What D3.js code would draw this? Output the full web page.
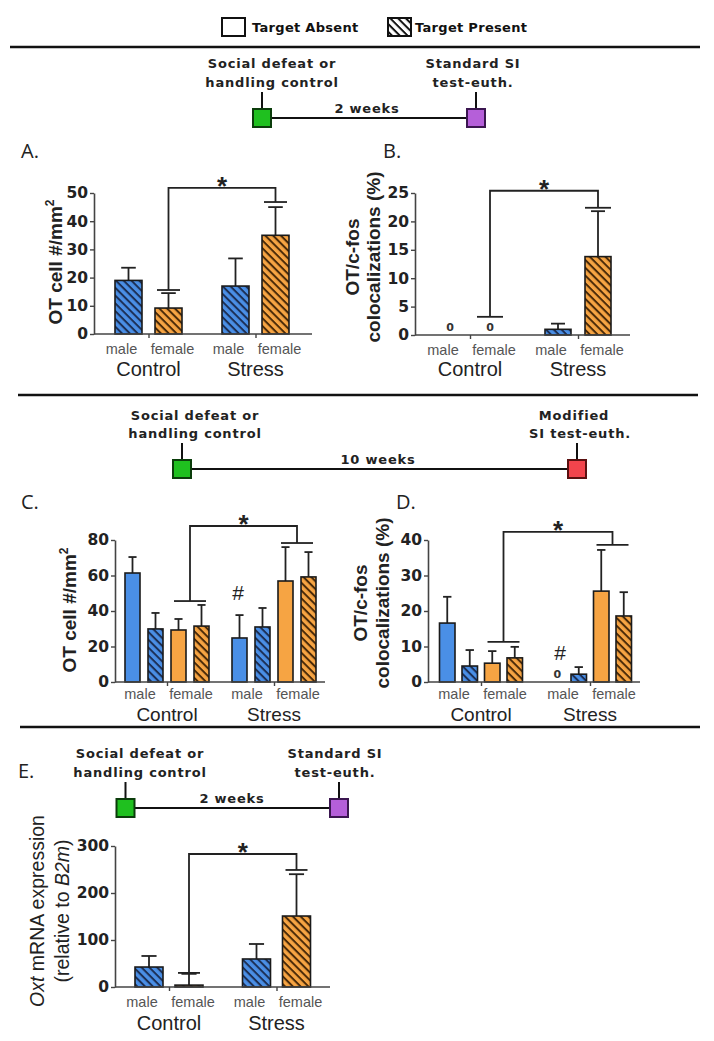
<!DOCTYPE html>
<html><head><meta charset="utf-8">
<script src="https://cdn.jsdelivr.net/npm/d3@7"></script>
<style>body{margin:0;background:#fff}</style>
</head><body>
<svg id="c" width="714" height="1041"></svg>
<script>
// ---------------- DATA ----------------
const conditions = ["Control", "Stress"];
const sexes = ["male", "female"];
const subBars = ["male-absent", "male-present", "female-absent", "female-present"];

const legendLabels = ["Target Absent", "Target Present"];

// Panel A: OT cell #/mm2 (target present), order: Control male, Control female, Stress male, Stress female
const aValues = [19, 9.2, 17, 35];
const aErrors = [23.5, 14.5, 26.8, 45];
const aTicks = [0, 10, 20, 30, 40, 50];

// Panel B: OT/c-fos colocalizations (%)
const bValues = [0, 0, 1.0, 13.8];
const bErrors = [null, null, 2.0, 21.8];
const bTicks = [0, 5, 10, 15, 20, 25];

// Panel C: OT cell #/mm2, order per condition: male-absent, male-present, female-absent, female-present
const cValues = [61.4, 29.9, 29.3, 31.5, 24.8, 31.0, 56.9, 59.2];
const cErrors = [70.4, 38.9, 35.5, 43.4, 37.7, 41.7, 76.0, 73.2];
const cTicks = [0, 20, 40, 60, 80];

// Panel D: OT/c-fos colocalizations (%)
const dValues = [16.6, 4.5, 5.3, 6.8, 0, 2.2, 25.6, 18.6];
const dErrors = [24.0, 9.0, 8.7, 9.9, null, 4.2, 37.2, 25.3];
const dTicks = [0, 10, 20, 30, 40];

// Panel E: Oxt mRNA expression (relative to B2m)
const eValues = [42.5, 4, 59.6, 151];
const eErrors = [66, 28, 91.5, 240];
const eTicks = [0, 100, 200, 300];

// Significance brackets: [left foot, right foot, top] in data units
const aBracket = [15.6, 46.8, 51.8];
const bBracket = [3.2, 22.4, 25.4];
const cBracket = [45.6, 78.3, 87.9];
const dBracket = [11.3, 38.6, 42.3];
const eBracket = [30, 249, 283];

// Timelines
const t1Labels = [["Social defeat or", "handling control"], ["Standard SI", "test-euth."], "2 weeks"];
const t2Labels = [["Social defeat or", "handling control"], ["Modified", "SI test-euth."], "10 weeks"];
const t3Labels = [["Social defeat or", "handling control"], ["Standard SI", "test-euth."], "2 weeks"];

// ---------------- STYLE ----------------
const BLUE = "#4a8fe6", ORANGE = "#f6a443";
const BOLDFONT = "'DejaVu Sans', sans-serif";
const ARIAL = "'Liberation Sans', Arial, sans-serif";

const svg = d3.select("#c");
const defs = svg.append("defs");
function hatch(id, bg, fg) {
  const p = defs.append("pattern").attr("id", id).attr("patternUnits", "userSpaceOnUse")
    .attr("width", 5.5).attr("height", 5.5).attr("patternTransform", "rotate(45)");
  p.append("rect").attr("width", 5.5).attr("height", 5.5).attr("fill", bg);
  p.append("rect").attr("width", 5.5).attr("height", 2).attr("fill", fg);
}
hatch("hb", BLUE, "#1c2f55");
hatch("ho", ORANGE, "#4a2a08");
hatch("hw", "#fff", "#111");

function fillFor(sex, target) {
  if (sex === "male") return target === "present" ? "url(#hb)" : BLUE;
  return target === "present" ? "url(#ho)" : ORANGE;
}

// ---------------- LEGEND & SEPARATORS ----------------
const legX = d3.scalePoint().domain(legendLabels).range([222, 388]);
legendLabels.forEach((l, i) => {
  svg.append("rect").attr("x", legX(l)).attr("y", 18).attr("width", 23).attr("height", 18)
    .attr("fill", i ? "url(#hw)" : "#fff").attr("stroke", "#111").attr("stroke-width", 2);
  svg.append("text").attr("x", legX(l) + (i ? 27 : 30)).attr("y", 32).text(l)
    .attr("font-family", BOLDFONT).attr("font-weight", "bold").attr("font-size", 13)
    .attr("letter-spacing", 0.3).attr("fill", "#111");
});
[[10, 700, 47], [18, 698, 395], [20, 700, 727]].forEach(s => {
  svg.append("line").attr("x1", s[0]).attr("x2", s[1]).attr("y1", s[2]).attr("y2", s[2])
    .attr("stroke", "#111").attr("stroke-width", 2.5);
});

// ---------------- TIMELINES ----------------
function timeline(t, labels) {
  const x = d3.scaleLinear().domain([0, 1]).range([t.x0, t.x1]);
  const g = svg.append("g");
  g.append("line").attr("x1", x(0)).attr("x2", x(1)).attr("y1", t.y).attr("y2", t.y)
    .attr("stroke", "#111").attr("stroke-width", 2);
  [[0, t.c0], [1, t.c1]].forEach(([k, col], i) => {
    g.append("line").attr("x1", x(k)).attr("x2", x(k)).attr("y1", t.stem).attr("y2", t.y - 9)
      .attr("stroke", "#111").attr("stroke-width", 2);
    g.append("rect").attr("x", x(k) - 9).attr("y", t.y - 9).attr("width", 18).attr("height", 18)
      .attr("fill", col).attr("stroke", t.s[i]).attr("stroke-width", 2);
    labels[i].forEach((ln, j) => {
      g.append("text").attr("x", t.lx[i][j]).attr("y", t.ly[j]).attr("text-anchor", "middle").text(ln)
        .attr("font-family", BOLDFONT).attr("font-weight", "bold").attr("font-size", 13)
        .attr("letter-spacing", 0.8).attr("fill", "#222");
    });
  });
  g.append("text").attr("x", t.dx).attr("y", t.y - 5).attr("text-anchor", "middle").text(labels[2])
    .attr("font-family", BOLDFONT).attr("font-weight", "bold").attr("font-size", 13)
    .attr("letter-spacing", 0.8).attr("fill", "#222");
}
timeline({x0: 262, x1: 476, y: 118, stem: 92, c0: "#1fc01f", c1: "#b55fd9", s: ["#0b3d0b", "#3b1650"],
  lx: [[272, 272], [473, 473]], ly: [67.5, 86.5], dx: 367}, t1Labels);
timeline({x0: 182, x1: 577, y: 469, stem: 443, c0: "#1fc01f", c1: "#f2444c", s: ["#0b3d0b", "#5a1010"],
  lx: [[195, 195], [574, 580]], ly: [419.5, 437.5], dx: 378}, t2Labels);
timeline({x0: 125.5, x1: 339, y: 808, stem: 782, c0: "#1fc01f", c1: "#b55fd9", s: ["#0b3d0b", "#3b1650"],
  lx: [[140, 140], [335, 335]], ly: [757.5, 776.5], dx: 232}, t3Labels);

// ---------------- PANELS ----------------
const sexLabelX = d3.scalePoint().domain(sexes).range([-27, 24]);

function panel(cfg) {
  const g = svg.append("g");
  const y = d3.scaleLinear().domain([cfg.ticks[0], cfg.ticks[cfg.ticks.length - 1]]).range(cfg.yRange);
  const xg = d3.scalePoint().domain(conditions).range(cfg.groupX);
  const xi = d3.scalePoint().domain(cfg.keys).range(cfg.inner);
  const bars = [];
  conditions.forEach((c, ci) => cfg.keys.forEach((k, ki) => {
    const idx = ci * cfg.keys.length + ki;
    const parts = k.split("-");
    bars.push({cond: c, key: k, sex: parts[0], target: parts[1] || "present",
      v: cfg.values[idx], e: cfg.errors[idx], cx: xg(c) + xi(k)});
  }));
  const bw = cfg.bw;
  // error bars
  bars.filter(b => b.e != null).forEach(b => {
    g.append("line").attr("x1", b.cx).attr("x2", b.cx).attr("y1", y(b.v)).attr("y2", y(b.e))
      .attr("stroke", "#222").attr("stroke-width", 1.8);
    g.append("line").attr("x1", b.cx - bw * 0.27).attr("x2", b.cx + bw * 0.27).attr("y1", y(b.e)).attr("y2", y(b.e))
      .attr("stroke", "#222").attr("stroke-width", 1.8);
  });
  // bars
  bars.filter(b => b.v > 0).forEach(b => {
    g.append("rect").attr("x", b.cx - bw / 2).attr("y", y(b.v)).attr("width", bw).attr("height", y(0) - y(b.v))
      .attr("fill", fillFor(b.sex, b.target)).attr("stroke", "#1a1a1a").attr("stroke-width", 1.6);
  });
  // zero labels
  bars.filter(b => b.v === 0).forEach(b => {
    g.append("text").attr("x", b.cx + (cfg.zeroDx || 0)).attr("y", y(0) - 4).attr("text-anchor", "middle").text("0")
      .attr("font-family", BOLDFONT).attr("font-weight", "bold").attr("font-size", 11).attr("fill", "#333");
  });
  // y axis
  const ya = g.append("g").attr("transform", `translate(${cfg.axisX[0]},0)`)
    .call(d3.axisLeft(y).tickValues(cfg.ticks).tickSize(4).tickSizeOuter(0).tickPadding(2));
  ya.select(".domain").attr("stroke", "#444").attr("stroke-width", 1.6);
  ya.selectAll(".tick line").attr("stroke", "#444").attr("stroke-width", 1.4);
  ya.selectAll(".tick text").attr("font-family", BOLDFONT).attr("font-weight", "bold")
    .attr("font-size", 15.5).attr("fill", "#222");
  // x axis
  g.append("line").attr("x1", cfg.axisX[0]).attr("x2", cfg.axisX[1]).attr("y1", y(0)).attr("y2", y(0))
    .attr("stroke", "#444").attr("stroke-width", 1.6);
  const xa = g.append("g").attr("transform", `translate(0,${y(0)})`)
    .call(d3.axisBottom(xg).tickSize(4).tickFormat(""));
  xa.select(".domain").remove();
  xa.selectAll(".tick line").attr("stroke", "#444").attr("stroke-width", 1.4);
  // sex labels and condition labels
  conditions.forEach(c => {
    sexes.forEach(s => {
      g.append("text").attr("x", xg(c) + sexLabelX(s)).attr("y", cfg.sexY).attr("text-anchor", "middle").text(s)
        .attr("font-family", ARIAL).attr("font-size", 14.5).attr("fill", "#555");
    });
    g.append("text").attr("x", xg(c)).attr("y", cfg.condY).attr("text-anchor", "middle").text(c)
      .attr("font-family", ARIAL).attr("font-size", cfg.condSize).attr("fill", "#222");
  });
  // significance bracket
  const br = cfg.bracket;
  const footL = bars.filter(b => b.cond === "Control" && b.sex === "female").map(b => b.cx);
  const footR = bars.filter(b => b.cond === "Stress" && b.sex === "female").map(b => b.cx);
  const fw = cfg.footPad;
  const lx = d3.mean(footL), rx = d3.mean(footR);
  [[footL, br[0]], [footR, br[1]]].forEach(([f, v]) => {
    g.append("line").attr("x1", d3.min(f) - bw / 2 + fw).attr("x2", d3.max(f) + bw / 2 - fw)
      .attr("y1", y(v)).attr("y2", y(v)).attr("stroke", "#222").attr("stroke-width", 1.8);
  });
  g.append("path").attr("d", `M${lx},${y(br[0])}V${y(br[2])}H${rx}V${y(br[1])}`)
    .attr("fill", "none").attr("stroke", "#222").attr("stroke-width", 1.8);
  g.append("text").attr("x", (lx + rx) / 2).attr("y", y(br[2]) + 7).attr("text-anchor", "middle").text("*")
    .attr("font-family", ARIAL).attr("font-weight", "bold").attr("font-size", 26).attr("fill", "#222");
  // hash marks
  (cfg.hash || []).forEach(h => {
    g.append("text").attr("x", h[0]).attr("y", h[1]).attr("text-anchor", "middle").text("#")
      .attr("font-family", ARIAL).attr("font-size", 21).attr("fill", "#222");
  });
  // y title
  cfg.title.forEach((t, i) => {
    const tx = g.append("text").attr("transform", `translate(${cfg.titleX[i]},${cfg.titleY}) rotate(-90)`)
      .attr("text-anchor", "middle").attr("font-family", ARIAL).attr("font-size", cfg.titleSize)
      .attr("font-weight", cfg.titleWeight).attr("fill", "#222");
    t.forEach(seg => {
      const ts = tx.append("tspan").text(seg.t);
      if (seg.sup) ts.attr("dy", -8).attr("font-size", 12);
      if (seg.it) ts.attr("font-style", "italic");
    });
  });
  // panel letter
  g.append("text").attr("x", cfg.letter[1]).attr("y", cfg.letter[2]).text(cfg.letter[0])
    .attr("font-family", "'Open Sans', sans-serif").attr("font-size", 20).attr("fill", "#222");
}

const otTitle = [[{t: "OT cell #/mm"}, {t: "2", sup: true}]];
const fosTitle = [[{t: "OT/c-fos"}], [{t: "colocalizations (%)"}]];

panel({keys: sexes, values: aValues, errors: aErrors, ticks: aTicks, yRange: [334, 193],
  groupX: [148.5, 255.5], inner: [-20, 20], bw: 27, axisX: [94, 312], sexY: 354, condY: 376, condSize: 20,
  bracket: aBracket, footPad: 2, title: otTitle, titleX: [62], titleY: 262, titleSize: 19, titleWeight: "bold",
  letter: ["A.", 21, 158]});
panel({keys: sexes, values: bValues, errors: bErrors, ticks: bTicks, yRange: [335, 193],
  groupX: [470, 578], inner: [-20, 20], bw: 26, axisX: [415, 630], sexY: 355, condY: 376, condSize: 20,
  bracket: bBracket, footPad: 0, title: fosTitle, titleX: [359, 380], titleY: 257, titleSize: 19, titleWeight: "bold",
  letter: ["B.", 383, 158]});
panel({keys: subBars, values: cValues, errors: cErrors, ticks: cTicks, yRange: [682, 540],
  groupX: [167, 274], inner: [-34.5, 34.5], bw: 15, axisX: [115, 325], sexY: 699, condY: 721, condSize: 19,
  bracket: cBracket, footPad: 3, title: otTitle, titleX: [76], titleY: 610, titleSize: 19, titleWeight: "bold",
  hash: [[238, 600]], letter: ["C.", 21, 509]});
panel({keys: subBars, values: dValues, errors: dErrors, ticks: dTicks, yRange: [682, 540],
  groupX: [481, 590], inner: [-33.75, 33.75], bw: 15.5, axisX: [428, 640], sexY: 699, condY: 721, condSize: 19,
  bracket: dBracket, footPad: 3, title: fosTitle, titleX: [367, 389], titleY: 603, titleSize: 19, titleWeight: "bold",
  hash: [[560, 660]], zeroDx: 1, letter: ["D.", 396, 509]});
panel({keys: sexes, values: eValues, errors: eErrors, ticks: eTicks, yRange: [987, 846],
  groupX: [169, 276.5], inner: [-20, 20], bw: 28, axisX: [115, 330], sexY: 1007, condY: 1030, condSize: 20,
  bracket: eBracket, footPad: 3, titleX: [44, 69], titleY: 911, titleSize: 19.5, titleWeight: "normal",
  title: [[{t: "Oxt", it: true}, {t: " mRNA expression"}], [{t: "(relative to "}, {t: "B2m", it: true}, {t: ")"}]],
  letter: ["E.", 18, 778]});
</script>
</body></html>
